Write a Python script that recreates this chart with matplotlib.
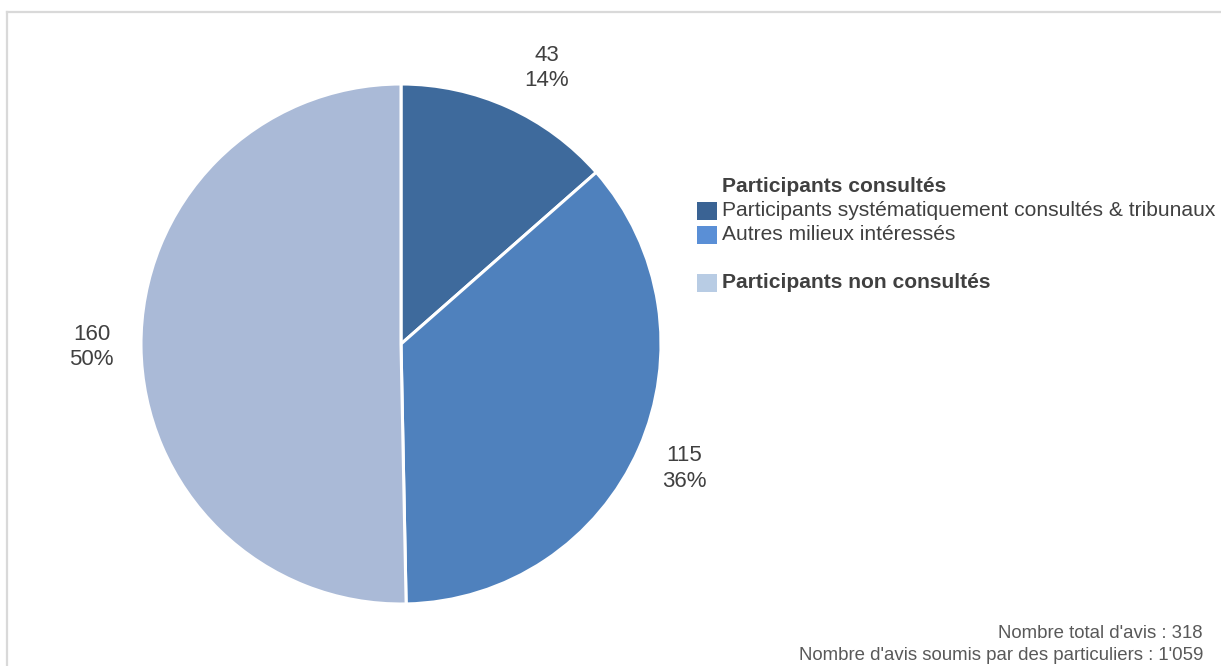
import matplotlib
matplotlib.use("Agg")
import matplotlib.pyplot as plt
from matplotlib.patches import Rectangle
from matplotlib.lines import Line2D
from matplotlib.transforms import offset_copy

categories = ["Participants systématiquement consultés & tribunaux",
              "Autres milieux intéressés",
              "Participants non consultés"]
values = [43, 115, 160]
pie_colors = ["#3E6A9C", "#4F81BD", "#AABAD7"]
legend_colors = ["#3A6394", "#5A8FD6", "#B8CCE4"]
legend_group_title = "Participants consultés"
footer_lines = ["Nombre total d'avis : 318",
                "Nombre d'avis soumis par des particuliers : 1'059"]

plt.rcParams['font.family'] = ['Liberation Sans', 'DejaVu Sans']
text_color = "#404040"

W, H = 1221, 666
fig = plt.figure(figsize=(W / 100, H / 100), dpi=100)
fig.patch.set_facecolor("white")

def fx(px):
    return px / W

def fy(py):
    return 1 - py / H

# border (top and left edges)
fig.add_artist(Line2D([fx(7), fx(W + 5)], [fy(12), fy(12)], color="#D9D9D9", lw=1.6))
fig.add_artist(Line2D([fx(7), fx(7)], [fy(12), fy(H + 5)], color="#D9D9D9", lw=1.6))

cx, cy, r = 401, 344, 260
ax = fig.add_axes([fx(cx - r), fy(cy + r), 2 * r / W, 2 * r / H])
total = sum(values)
labels = [f"{v}\n{round(v / total * 100)}%" for v in values]
wedges, texts = ax.pie(values, colors=pie_colors, startangle=90, counterclock=False,
                       labels=labels, labeldistance=1.19,
                       wedgeprops=dict(edgecolor="white", linewidth=2.2),
                       textprops=dict(fontsize=16, color=text_color))
for t in texts:
    t.set_ha("center")
    t.set_va("center")
    t.set_linespacing(1.3)
# small nudge of the first label, as in the reference
texts[0].set_transform(offset_copy(texts[0].get_transform(), fig=fig, x=18, y=-6, units="dots"))
ax.set_xlim(-1, 1)
ax.set_ylim(-1, 1)
ax.set_aspect("equal")
ax.axis("off")

# legend
fs_leg = 15.1
fig.text(fx(722), fy(186), legend_group_title, fontsize=fs_leg, fontweight="bold",
         color=text_color, ha="left", va="center")
rows_y = [211, 235, 283]
for i, (lab, col, yy) in enumerate(zip(categories, legend_colors, rows_y)):
    fig.add_artist(Rectangle((fx(697), fy(yy + 9)), 20 / W, 18 / H, facecolor=col,
                             edgecolor="none", transform=fig.transFigure))
    fig.text(fx(722), fy(yy), lab, fontsize=fs_leg, color=text_color, ha="left", va="center",
             fontweight="bold" if i == 2 else "normal")

# footer
for yy, line in zip([633, 655], footer_lines):
    fig.text(fx(1203), fy(yy), line, fontsize=13.4, color="#595959", ha="right", va="center")

fig.savefig("out.png", dpi=100, facecolor="white")
